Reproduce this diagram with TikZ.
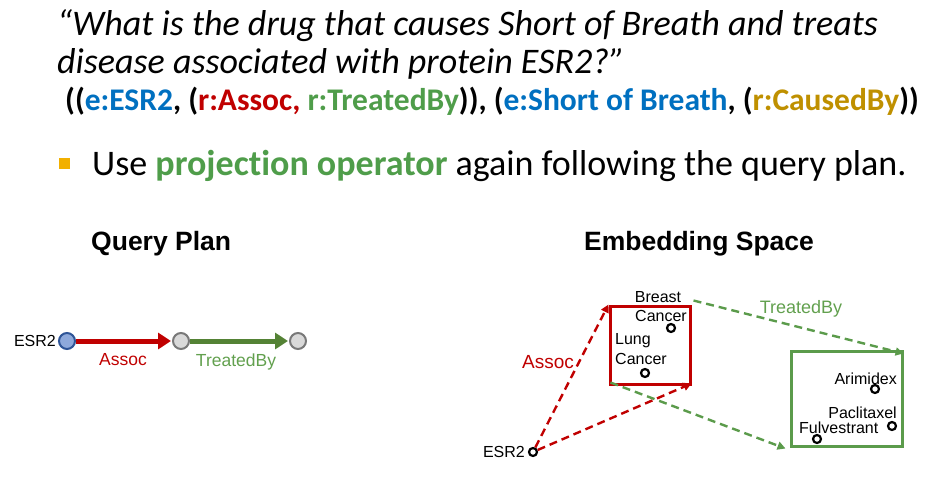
\documentclass[tikz,border=0pt]{standalone}
\usepackage{fontspec}
\setmainfont{Carlito}[Ligatures=NoCommon]
\newfontfamily\arial{Liberation Sans}
\usetikzlibrary{arrows.meta}
\definecolor{eblue}{HTML}{0070C0}
\definecolor{rred}{HTML}{C00000}
\definecolor{rgreen}{HTML}{4F9D4A}
\definecolor{rgold}{HTML}{BF9000}
\definecolor{bulletor}{HTML}{F2B000}
\definecolor{qgreen}{HTML}{548235}
\definecolor{lgreen}{HTML}{62A04E}
\definecolor{boxgreen}{HTML}{5B9B4B}
\definecolor{nodeblue}{HTML}{8EA9DB}
\definecolor{nodeblueb}{HTML}{2F5597}
\tikzset{
  txt/.style={inner sep=0pt, anchor=base west},
  qnode/.style={circle, minimum size=16pt, inner sep=0pt, line width=2pt, draw=gray!95!black, fill=gray!30},
  qarrow/.style={line width=5pt, -{Triangle[length=13pt,width=16pt]}, shorten >=1pt},
  lbl/.style={inner sep=0pt, font=\arial\fontsize{16}{18}\selectfont},
  biglbl/.style={inner sep=0pt, font=\arial\fontsize{18}{20}\selectfont},
  dot/.style={circle, draw=black, fill=white, line width=2.2pt, minimum size=8pt, inner sep=0pt},
  dasharrow/.style={line width=2.4pt, dash pattern=on 8pt off 5pt, -{Triangle[length=8pt,width=8pt]}},
}
\begin{document}
\begin{tikzpicture}[x=1pt,y=-1pt]
\useasboundingbox (0,0) rectangle (938,477);

% question text
\node[txt, font=\fontsize{36}{40}\itshape] (q1) at (57,35) {“What is the drug that causes Short of Breath and treats};
\node[txt, font=\fontsize{36}{40}\itshape] (q2) at (57,73) {disease associated with protein ESR2?”};
\node[txt, font=\fontsize{31.5}{36}\bfseries] (q3) at (65,110) {((\textcolor{eblue}{e:ESR2}, (\textcolor{rred}{r:Assoc,} \textcolor{rgreen}{r:TreatedBy})), (\textcolor{eblue}{e:Short of Breath}, (\textcolor{rgold}{r:CausedBy}))};

% bullet
\fill[bulletor] (59,158) rectangle (70,169);
\node[txt, font=\fontsize{36}{40}\selectfont] (b1) at (92,175) {Use \textcolor{rgreen}{\bfseries projection operator} again following the query plan.};

% headings
\node[txt, font=\arial\bfseries\fontsize{26.5}{30}\selectfont] (h1) at (91,250) {Query Plan};
\node[txt, font=\arial\bfseries\fontsize{26.5}{30}\selectfont] (h2) at (584,250) {Embedding Space};

% query plan
\node[qnode, draw=nodeblueb, fill=nodeblue] (n1) at (67,341) {};
\node[qnode] (n2) at (181,341) {};
\node[qnode] (n3) at (298,341) {};
\node[lbl, anchor=east] (l1) at (56,341) {ESR2};
\draw[qarrow, rred] (n1) -- (n2);
\draw[qarrow, qgreen] (n2) -- (n3);
\node[lbl, rred, font=\arial\fontsize{17.5}{19}\selectfont] (la) at (123,360) {Assoc};
\node[lbl, lgreen, font=\arial\fontsize{17.5}{19}\selectfont] (lt) at (236,362) {TreatedBy};

% embedding space
\node[draw=rred, line width=3pt, minimum width=80pt, minimum height=78pt, inner sep=0pt] (rbox) at (650,345) {};
\node[draw=boxgreen, line width=3pt, minimum width=111pt, minimum height=95pt, inner sep=0pt] (gbox) at (846.5,398.5) {};

\node[dot] (esr) at (533,452) {};
\node[lbl, anchor=east] at (525,452) {ESR2};

\node[dot] (bc) at (671,328) {};
\node[lbl] at (658,297) {Breast};
\node[lbl, anchor=east] at (687,316) {Cancer};
\node[dot] (lc) at (645,373) {};
\node[lbl, anchor=west] at (615,341) {Lung};
\node[lbl, anchor=west] at (615,359) {Cancer};

\node[dot] (ar) at (875,389) {};
\node[lbl, anchor=east] at (897,379) {Arimidex};
\node[dot] (pa) at (892,426) {};
\node[lbl, anchor=east] at (897,413) {Paclitaxel};
\node[dot] (fu) at (817,439) {};
\node[lbl, anchor=west] at (799,428) {Fulvestrant};

\draw[dasharrow, rred] (esr) -- (rbox.north west);
\draw[dasharrow, rred] (esr) -- ([yshift=2pt]rbox.south east);
\node[biglbl, rred, font=\arial\fontsize{19}{21}\selectfont] (ea) at (548,362) {Assoc};

\draw[dasharrow, boxgreen] ([xshift=2pt,yshift=4pt]rbox.north east) -- ([yshift=-4pt]gbox.north east);
\draw[dasharrow, boxgreen] ([xshift=2pt,yshift=3pt]rbox.south west) -- ([xshift=-4pt,yshift=-1pt]gbox.south west);
\node[biglbl, lgreen] (et) at (801,309) {TreatedBy};
\end{tikzpicture}
\end{document}
